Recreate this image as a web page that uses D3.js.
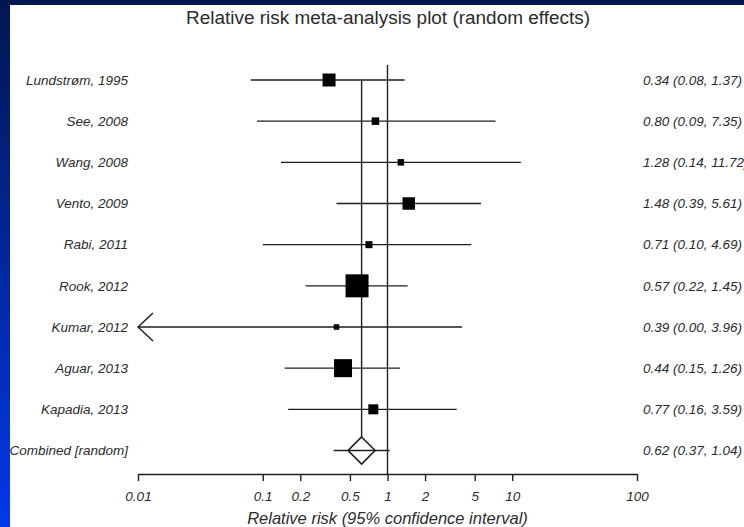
<!DOCTYPE html>
<html>
<head>
<meta charset="utf-8">
<script src="https://cdn.jsdelivr.net/npm/d3@7"></script>
<style>
  body { margin: 0; background: #fff; }
  svg { display: block; font-family: "Liberation Sans", Arial, sans-serif; }
</style>
</head>
<body>
<script>
////////////
/// DATA ///
////////////

var studies = ["Lundstrøm, 1995", "See, 2008", "Wang, 2008", "Vento, 2009", "Rabi, 2011",
               "Rook, 2012", "Kumar, 2012", "Aguar, 2013", "Kapadia, 2013"];
var rr    = [0.34, 0.80, 1.28, 1.48, 0.71, 0.57, 0.39, 0.44, 0.77];
var lower = [0.08, 0.09, 0.14, 0.39, 0.10, 0.22, 0.00, 0.15, 0.16];
var upper = [1.37, 7.35, 11.72, 5.61, 4.69, 1.45, 3.96, 1.26, 3.59];
// study weight (%) -> marker area
var weights = [11.6, 3.9, 2.9, 10.7, 3.4, 36.4, 2.1, 22.3, 6.9];

var pooledLabel = "Combined [random]";
var pooled = {rr: 0.62, lower: 0.37, upper: 1.04};

var tickValues = [0.01, 0.1, 0.2, 0.5, 1, 2, 5, 10, 100];
var title = "Relative risk meta-analysis plot (random effects)";
var xTitle = "Relative risk (95% confidence interval)";

/////////////////
/// SETUP VIZ ///
/////////////////

var W = 744, H = 527;
var axisY = 474;

var svg = d3.select("body").append("svg")
    .attr("width", W)
    .attr("height", H);

// slide frame
var grad = svg.append("defs").append("linearGradient")
    .attr("id", "slideBlue")
    .attr("x1", 0).attr("y1", 0).attr("x2", 0).attr("y2", 1);
grad.append("stop").attr("offset", "0%").attr("stop-color", "#021650");
grad.append("stop").attr("offset", "100%").attr("stop-color", "#0338ea");

svg.append("rect").attr("width", W).attr("height", H).attr("fill", "url(#slideBlue)");
svg.append("rect").attr("width", W).attr("height", 5).attr("fill", "#021650");
svg.append("rect").attr("x", 10).attr("y", 5).attr("width", W - 10).attr("height", H - 5).attr("fill", "#fff");

// scales
var x = d3.scaleLog().domain([0.01, 100]).range([138, 637]);
var y = d3.scalePoint().domain(studies.concat([pooledLabel])).range([80, 450.5]);
var size = d3.scaleSqrt().domain([0, d3.max(weights)]).range([0, 23]);

var ink = "#1e1e1e", textCol = "#2b2b2b";

svg.append("text")
    .attr("x", 388)
    .attr("y", 18)
    .attr("dy", "0.35em")
    .attr("text-anchor", "middle")
    .attr("font-size", 18)
    .attr("textLength", 404)
    .attr("lengthAdjust", "spacingAndGlyphs")
    .attr("fill", textCol)
    .text(title);

// reference lines
svg.append("line")
    .attr("x1", x(1)).attr("x2", x(1))
    .attr("y1", 65).attr("y2", axisY)
    .attr("stroke", ink).attr("stroke-width", 1.4);

svg.append("line")
    .attr("x1", x(pooled.rr)).attr("x2", x(pooled.rr))
    .attr("y1", y(studies[0])).attr("y2", y(pooledLabel) - 13.5)
    .attr("stroke", ink).attr("stroke-width", 1.4);

// study rows
var rows = svg.selectAll(".study")
    .data(studies)
    .enter().append("g")
    .attr("class", "study")
    .attr("transform", function(d) { return "translate(0," + y(d) + ")"; });

rows.append("line")
    .attr("x1", function(d, i) { return x(Math.max(lower[i], 0.01)); })
    .attr("x2", function(d, i) { return x(upper[i]); })
    .attr("stroke", ink).attr("stroke-width", 1.4);

rows.filter(function(d, i) { return lower[i] < 0.01; })
    .append("path")
    .attr("d", function() { var x0 = x(0.01); return "M" + (x0 + 15) + ",-14L" + x0 + ",0L" + (x0 + 15) + ",14"; })
    .attr("fill", "none").attr("stroke", ink).attr("stroke-width", 1.4);

rows.append("rect")
    .attr("x", function(d, i) { return x(rr[i]) - size(weights[i]) / 2; })
    .attr("y", function(d, i) { return -size(weights[i]) / 2; })
    .attr("width", function(d, i) { return size(weights[i]); })
    .attr("height", function(d, i) { return size(weights[i]); })
    .attr("fill", "#000");

// pooled estimate
var py = y(pooledLabel);
svg.append("line")
    .attr("x1", x(pooled.lower)).attr("x2", x(pooled.upper))
    .attr("y1", py).attr("y2", py)
    .attr("stroke", ink).attr("stroke-width", 1.4);

var cx = x(pooled.rr);
svg.append("path")
    .attr("d", "M" + cx + "," + (py - 13.5) + "L" + (cx + 13.5) + "," + py + "L" + cx + "," + (py + 13.5) + "L" + (cx - 13.5) + "," + py + "Z")
    .attr("fill", "none").attr("stroke", ink).attr("stroke-width", 1.6);

// labels
var fmt = d3.format(".2f");
var allLabels = studies.concat([pooledLabel]);
var allText = rr.map(function(d, i) { return fmt(d) + " (" + fmt(lower[i]) + ", " + fmt(upper[i]) + ")"; })
    .concat([fmt(pooled.rr) + " (" + fmt(pooled.lower) + ", " + fmt(pooled.upper) + ")"]);

svg.selectAll(".label")
    .data(allLabels)
    .enter().append("text")
    .attr("class", "label")
    .attr("x", 128)
    .attr("y", function(d) { return y(d); })
    .attr("dy", "0.35em")
    .attr("text-anchor", "end")
    .attr("font-size", 13.5)
    .attr("font-style", "italic")
    .attr("fill", textCol)
    .text(function(d) { return d; });

svg.selectAll(".estimate")
    .data(allText)
    .enter().append("text")
    .attr("class", "estimate")
    .attr("x", 643)
    .attr("y", function(d, i) { return y(allLabels[i]); })
    .attr("dy", "0.35em")
    .attr("font-size", 13.5)
    .attr("font-style", "italic")
    .attr("fill", textCol)
    .text(function(d) { return d; });

// x axis
var axis = svg.append("g")
    .attr("transform", "translate(0," + axisY + ")")
    .call(d3.axisBottom(x).tickValues(tickValues).tickFormat(function(d) { return d; }).tickSize(7).tickSizeOuter(0));

axis.select(".domain").attr("stroke", ink).attr("stroke-width", 1.4);
axis.selectAll(".tick line").attr("stroke", ink).attr("stroke-width", 1.4);
axis.selectAll(".tick text")
    .attr("y", 22)
    .attr("dy", "0.35em")
    .attr("font-family", "Liberation Sans, Arial, sans-serif")
    .attr("font-size", 13.5)
    .attr("font-style", "italic")
    .attr("fill", textCol);

svg.append("text")
    .attr("x", x(1))
    .attr("y", 518)
    .attr("dy", "0.35em")
    .attr("text-anchor", "middle")
    .attr("font-size", 16.5)
    .attr("font-style", "italic")
    .attr("fill", textCol)
    .text(xTitle);
</script>
</body>
</html>
